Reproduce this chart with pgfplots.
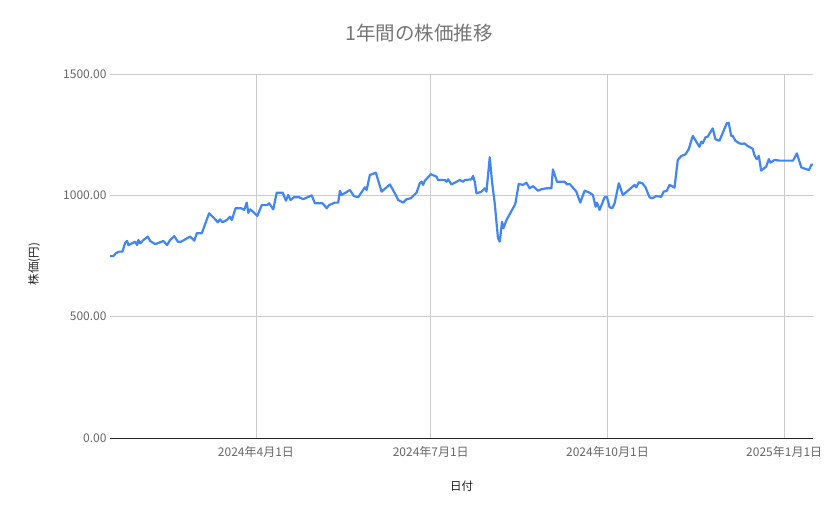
\documentclass[border=0pt]{standalone}
\usepackage{fontspec}
\setmainfont{Noto Sans CJK JP}
\usepackage{pgfplots}
\pgfplotsset{compat=1.18}

\definecolor{lineblue}{HTML}{4285F4}
\definecolor{titlegray}{HTML}{757575}
\definecolor{tickgray}{HTML}{666666}
\definecolor{gridgray}{HTML}{CCCCCC}
\definecolor{labeldark}{HTML}{222222}

% x = day of 2024 (1 Jan 2024 = 0)
\pgfplotstableread{
day price
15.1 750
16.8 750
18.0 761
19.8 768
21.5 768
22.9 805
23.9 812
24.6 795
26.4 802
28.1 809
29.1 795
29.8 816
30.7 802
32.4 816
34.7 830
35.9 812
38.5 799
40.6 805
42.8 812
44.7 795
46.3 816
48.5 832
50.3 809
52.0 809
56.7 830
58.9 813
60.2 844
62.8 844
66.6 926
69.3 905
71.1 889
72.3 901
73.5 889
75.8 898
77.5 912
78.4 898
80.4 947
83.2 947
84.9 940
86.2 970
87.0 928
88.0 942
90.1 928
91.7 915
94.0 960
96.9 960
97.9 967
100.0 942
101.8 1011
104.9 1011
106.6 978
107.8 1001
109.0 981
110.8 992
113.5 992
115.6 984
120.0 1000
121.7 967
125.7 967
127.8 947
129.1 960
132.1 970
133.8 970
134.7 1019
135.6 1001
139.9 1022
142.0 997
144.2 992
147.7 1033
148.6 1022
150.3 1084
153.4 1093
156.4 1015
160.7 1045
163.3 1008
165.0 981
167.6 970
169.4 984
171.6 988
174.6 1011
176.3 1050
177.2 1056
178.0 1043
178.9 1060
182.0 1087
185.0 1077
185.8 1063
189.3 1063
190.2 1056
191.0 1066
192.8 1045
197.1 1063
198.8 1056
199.7 1063
203.2 1066
204.0 1080
204.9 1056
205.8 1008
208.4 1015
210.1 1029
211.0 1015
212.7 1157
213.9 1056
215.3 967
217.0 823
217.9 809
219.1 891
219.8 864
221.4 898
224.8 947
226.0 964
227.8 1047
230.0 1043
231.8 1052
233.5 1029
235.2 1038
237.8 1019
239.6 1025
242.2 1029
244.8 1029
245.6 1107
247.7 1056
251.7 1056
252.9 1045
254.3 1047
257.8 1015
259.8 970
262.1 1019
264.7 1011
266.4 1001
267.8 953
268.5 970
269.9 940
272.5 992
273.7 994
275.1 951
276.5 947
277.7 967
279.9 1050
282.0 1001
285.5 1025
288.1 1043
289.0 1033
290.3 1054
292.1 1050
293.8 1033
295.9 992
297.3 988
299.4 997
302.0 994
303.2 1015
304.9 1019
306.3 1043
308.9 1032
310.6 1146
312.4 1162
314.6 1169
316.3 1190
318.4 1245
321.9 1200
322.8 1221
323.6 1214
325.0 1239
326.2 1242
328.8 1276
330.2 1231
332.3 1225
336.1 1297
337.1 1299
338.4 1245
339.2 1245
340.6 1225
342.7 1214
344.1 1212
345.3 1214
347.0 1203
349.6 1192
350.5 1166
351.7 1149
352.8 1162
354.0 1102
356.6 1118
358.0 1149
358.9 1135
361.0 1146
363.6 1143
370.6 1143
372.6 1173
374.9 1115
377.8 1107
378.9 1104
380.1 1125
380.9 1128
}\pricedata

\begin{document}
\begin{tikzpicture}
\path (-110bp,-81bp) rectangle (729bp,438bp);
\begin{axis}[
    at={(0,0)}, anchor=south west,
    scale only axis,
    width=703bp, height=364bp,
    xmin=15, xmax=381,
    ymin=0, ymax=1500,
    xtick={91,182,274,366},
    xticklabels={2024年4月1日,2024年7月1日,2024年10月1日,2025年1月1日},
    ytick={0,500,1000,1500},
    major tick length=0pt,
    axis x line*=bottom, axis y line*=left,
    x axis line style={draw=labeldark, line width=1bp},
    y axis line style={draw=none},
    grid=major,
    major grid style={draw=gridgray, line width=0.8bp},
    /pgf/number format/assume math mode=true,
    yticklabel style={/pgf/number format/.cd, fixed, fixed zerofill, precision=2, 1000 sep={}},
    tick label style={font=\fontsize{12bp}{14bp}\selectfont, text=tickgray},
    xticklabel style={yshift=-5bp},
    title={1年間の株価推移},
    title style={font=\fontsize{19.5bp}{22bp}\selectfont, text=titlegray,
        at={(0.440,1.096)}, anchor=center},
    xlabel={日付},
    xlabel style={font=\fontsize{11.5bp}{14bp}\selectfont, text=labeldark,
        at={(0.5,-0.132)}, anchor=center},
    ylabel={株価(円)},
    ylabel style={font=\fontsize{11.5bp}{14bp}\selectfont, text=labeldark,
        at={(-0.108,0.478)}, anchor=center},
]
\addplot[color=lineblue, line width=2.2bp, line join=round, mark=none] table[x=day, y=price] {\pricedata};
\end{axis}
\end{tikzpicture}
\end{document}
